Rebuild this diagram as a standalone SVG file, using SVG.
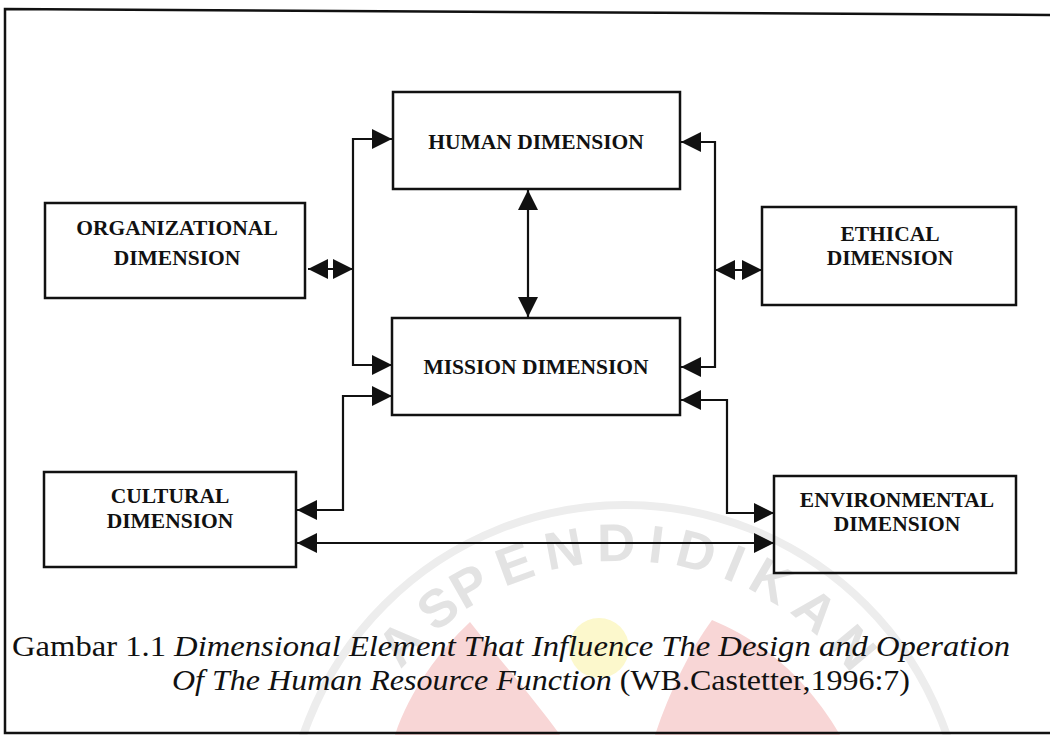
<svg xmlns="http://www.w3.org/2000/svg" width="1050" height="735" viewBox="0 0 1050 735">
<style>
.box{fill:none;stroke:#111;stroke-width:2.5}
.lbl{font-family:"Liberation Serif","Times New Roman",serif;font-weight:bold;font-size:21.5px;fill:#111;text-anchor:middle}
.con{fill:none;stroke:#111;stroke-width:2.2;marker-start:url(#ah);marker-end:url(#ah)}
.cap{font-family:"Liberation Serif","Times New Roman",serif;font-size:30px;fill:#111}
.wm{font-family:"Liberation Sans",Arial,sans-serif;font-weight:bold;font-size:53px;fill:#e3e3e3;letter-spacing:11.5px}
</style>
<defs>
<marker id="ah" viewBox="0 0 20 20" refX="20" refY="10" markerWidth="20" markerHeight="20" markerUnits="userSpaceOnUse" orient="auto-start-reverse">
<path d="M0,0 L20,10 L0,20 z" fill="#111"/>
</marker>
<path id="arc" d="M341,845 A284,284 0 0 1 909,845"/>
</defs>
<rect width="1050" height="735" fill="#fff"/>
<g id="watermark">
<circle cx="625" cy="845" r="340" fill="none" stroke="#ededed" stroke-width="8"/>
<text class="wm"><textPath href="#arc" startOffset="497" text-anchor="middle">PENDIDIKAN</textPath></text>
<text class="wm"><textPath href="#arc" startOffset="285" text-anchor="end">AS</textPath></text>
<path d="M395,735 C410,690 440,650 470,622 C500,660 535,700 560,735 Z" fill="#f8d6d6"/>
<path d="M655,735 C670,690 690,650 712,620 C760,640 805,675 840,735 Z" fill="#f8d6d6"/>
<circle cx="599" cy="648" r="30" fill="#fcf8cc"/>
</g>
<g id="frame" fill="none" stroke="#111" stroke-width="2.5">
<path d="M1050,15 L5,9 L5,733 L1050,733"/>
</g>
<g id="connectors">
<path class="con" d="M392,139 H353 V365 H392"/>
<path class="con" d="M308,269 H353"/>
<path class="con" d="M528,190 V317"/>
<path class="con" d="M681,142 H715 V367 H681"/>
<path class="con" d="M715,270 H762"/>
<path class="con" d="M392,396 H343 V510 H297"/>
<path class="con" d="M681,400 H727 V513 H774"/>
<path class="con" d="M297,543 H774"/>
</g>
<g id="human"><rect class="box" x="393" y="92" width="287" height="97"/><text class="lbl" x="536" y="149">HUMAN DIMENSION</text></g>
<g id="mission"><rect class="box" x="392" y="318" width="288" height="97"/><text class="lbl" x="536" y="374">MISSION DIMENSION</text></g>
<g id="organizational"><rect class="box" x="45" y="203" width="260" height="95"/><text class="lbl" x="177" y="235">ORGANIZATIONAL</text><text class="lbl" x="177" y="265">DIMENSION</text></g>
<g id="ethical"><rect class="box" x="762" y="207" width="254" height="98"/><text class="lbl" x="890" y="241">ETHICAL</text><text class="lbl" x="890" y="265">DIMENSION</text></g>
<g id="cultural"><rect class="box" x="44" y="472" width="252" height="95"/><text class="lbl" x="170" y="503">CULTURAL</text><text class="lbl" x="170" y="528">DIMENSION</text></g>
<g id="environmental"><rect class="box" x="774" y="476" width="242" height="97"/><text class="lbl" x="897" y="507">ENVIRONMENTAL</text><text class="lbl" x="897" y="531">DIMENSION</text></g>
<g id="caption">
<text class="cap" x="12" y="656" textLength="998" lengthAdjust="spacingAndGlyphs">Gambar 1.1 <tspan font-style="italic">Dimensional Element That  Influence The Design and Operation</tspan></text>
<text class="cap" x="172" y="690" textLength="738" lengthAdjust="spacingAndGlyphs"><tspan font-style="italic">Of The Human Resource Function</tspan> (WB.Castetter,1996:7)</text>
</g>
</svg>
